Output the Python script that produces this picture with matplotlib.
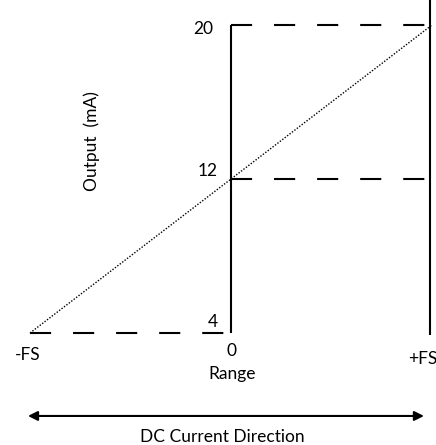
import matplotlib
matplotlib.use("Agg")
import matplotlib.pyplot as plt

plt.rcParams['font.family'] = ['Lato', 'DejaVu Sans']
plt.rcParams['lines.scale_dashes'] = False

# data
range_pos = [-1.0, 0.0, 1.0]          # -FS, 0, +FS
range_labels = ['-FS', '0', '+FS']
output_levels = [4, 12, 20]           # mA
output_labels = ['4', '12', '20']

fig = plt.figure(figsize=(4.36, 4.45), dpi=100)
fig.patch.set_facecolor('white')
ax = fig.add_axes([0, 0, 1, 1])
ax.set_xlim(-231 / 201, (436 - 231) / 201)
ax.set_ylim(20 - 420 / 19.25, 20 + 25 / 19.25)
ax.axis('off')

lw_solid = 1.5
dash = (15.2, 15.8)

# vertical axis at 0
ax.vlines(range_pos[1], output_levels[0], output_levels[2],
          color='black', lw=lw_solid)
# vertical line at +FS
ax.plot([range_pos[2] - 0.012] * 2, [output_levels[0] - 0.1, 30],
        color='black', lw=lw_solid, clip_on=False, solid_capstyle='butt')

# dashed reference levels
ax.hlines([output_levels[2], output_levels[1]], range_pos[1], range_pos[2],
          color='black', lw=lw_solid, linestyles=[(0, dash)])
ax.hlines(output_levels[0], range_pos[0], range_pos[1],
          color='black', lw=lw_solid, linestyles=[(0, dash)])

# transfer line
ax.plot([range_pos[0], range_pos[2]], [output_levels[0], output_levels[2]],
        color='black', lw=1.0, linestyle=(0, (1.0, 1.2)), dash_capstyle='butt')

fs = 12.5
# output labels
ax.text(-0.065, 4.57, output_labels[0], ha='right', va='center', fontsize=fs)
ax.text(-0.065, 12.42, output_labels[1], ha='right', va='center', fontsize=fs)
ax.text(-0.09, 19.8, output_labels[2], ha='right', va='center', fontsize=fs)

# range labels
ax.text(-1.01, 2.86, range_labels[0], ha='center', va='center', fontsize=fs)
ax.text(0.0, 3.06, range_labels[1], ha='center', va='center', fontsize=fs)
ax.text(0.881, 2.65, range_labels[2], ha='left', va='center', fontsize=fs)
ax.text(0.005, 1.87, 'Range', ha='center', va='center', fontsize=fs)

# axis title
fig.text(92 / 436, 1 - 141 / 445, 'Output  (mA)', ha='center', va='center',
         rotation=90, rotation_mode='anchor', fontsize=fs)

# direction arrow
ax.annotate('', xy=(0.96, -0.31), xytext=(-1.01, -0.31),
            arrowprops=dict(arrowstyle='<|-|>', color='black', lw=1.5,
                            mutation_scale=14, shrinkA=0, shrinkB=0))
ax.text(-0.045, -1.40, 'DC Current Direction', ha='center', va='center',
        fontsize=fs)

fig.savefig('out.png', dpi=100, facecolor='white')
